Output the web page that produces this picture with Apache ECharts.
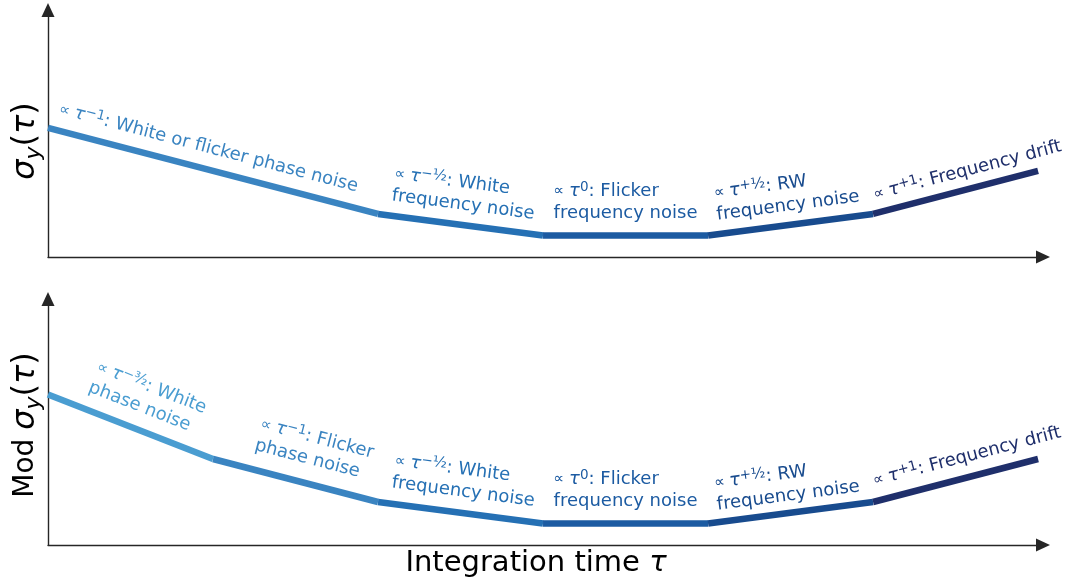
<!DOCTYPE html>
<html><head><meta charset="utf-8">
<script src="https://cdn.jsdelivr.net/npm/echarts@6/dist/echarts.min.js"></script>
<style>html,body{margin:0;padding:0;background:#fff}#c{width:1066px;height:585px}</style>
</head><body><div id="c"></div>
<script>
// ---- data (log-log schematic: log tau vs log sigma) ----
const tauTop = [0, 2, 3, 4, 5, 6];
const sigmaTop = [3.0, 1.0, 0.5, 0.5, 1.0, 2.0];
const tauBottom = [0, 1, 2, 3, 4, 5, 6];
const modSigmaBottom = [3.5, 2.0, 1.0, 0.5, 0.5, 1.0, 2.0];

const labelsTop = [
  '{p|∝ }{t|τ}{s|−1}{n|: White or flicker phase noise}',
  '{p|∝ }{t|τ}{s|−}{f|½}{n|: White}\n{n|frequency noise}',
  '{p|∝ }{t|τ}{s|0}{n|: Flicker}\n{n|frequency noise}',
  '{p|∝ }{t|τ}{s|+}{f|½}{n|: RW}\n{n|frequency noise}',
  '{p|∝ }{t|τ}{s|+1}{n|: Frequency drift}'
];
const labelsBottom = [
  '{p|∝ }{t|τ}{s|−}{f|³⁄₂}{n|: White}\n{n|phase noise}',
  '{p|∝ }{t|τ}{s|−1}{n|: Flicker}\n{n|phase noise}',
  '{p|∝ }{t|τ}{s|−}{f|½}{n|: White}\n{n|frequency noise}',
  '{p|∝ }{t|τ}{s|0}{n|: Flicker}\n{n|frequency noise}',
  '{p|∝ }{t|τ}{s|+}{f|½}{n|: RW}\n{n|frequency noise}',
  '{p|∝ }{t|τ}{s|+1}{n|: Frequency drift}'
];
const yTitleTop = '{i|σ}{b|y}{m|(}{i|τ}{m|)}';
const yTitleBottom = '{n|Mod }{i|σ}{b|y}{m|(}{i|τ}{m|)}';
const xTitle = '{n|Integration time }{x|τ}';

// ---- styles ----
const topColors = ['#3a84c1', '#2570b4', '#1c5ba2', '#184b8e', '#1f2f6b'];
const bottomColors = ['#4a9dd1', '#3a84c1', '#2570b4', '#1c5ba2', '#184b8e', '#1f2f6b'];
const topLayout = [{t:.47,d:21},{t:.5,d:31},{t:.5,d:33},{t:.5,d:30},{t:.6,d:18}];
const bottomLayout = [{t:.53,d:33},{t:.56,d:35},{t:.5,d:32},{t:.5,d:33},{t:.5,d:28},{t:.6,d:20}];
const FF = 'DejaVu Sans';
const AX = '#262626';

function labelRich() {
  return {
    p: {fontFamily: FF, fontSize: 15, align: 'left', lineHeight: 22},
    t: {fontFamily: FF, fontSize: 18, fontStyle: 'italic', align: 'left', lineHeight: 22},
    s: {fontFamily: FF, fontSize: 13.5, align: 'left', verticalAlign: 'top', lineHeight: 13},
    f: {fontFamily: FF, fontSize: 15, align: 'left', verticalAlign: 'top', lineHeight: 15},
    n: {fontFamily: FF, fontSize: 18, align: 'left', lineHeight: 22}
  };
}
function titleRich(size, msize) {
  return {
    n: {fontFamily: FF, fontSize: size, lineHeight: msize + 6},
    m: {fontFamily: FF, fontSize: msize, lineHeight: msize + 6},
    x: {fontFamily: FF, fontSize: size, fontStyle: 'italic', lineHeight: size + 6},
    i: {fontFamily: FF, fontSize: msize, fontStyle: 'italic', lineHeight: msize + 6},
    b: {fontFamily: FF, fontSize: Math.round(msize * 0.7), fontStyle: 'italic', verticalAlign: 'bottom', lineHeight: Math.round(msize * 0.7)}
  };
}

function segSeries(g, xs, ys, colors) {
  const out = [];
  for (let i = 0; i < xs.length - 1; i++) {
    out.push({
      type: 'line', xAxisIndex: g, yAxisIndex: g, silent: true,
      data: [[xs[i], ys[i]], [xs[i + 1], ys[i + 1]]],
      symbol: 'none', showSymbol: false,
      lineStyle: {width: 6.5, color: colors[i], cap: 'butt'}, z: 3
    });
  }
  return out;
}
function labelSeries(g, xs, ys, labels, colors, layout) {
  return {
    type: 'custom', xAxisIndex: g, yAxisIndex: g, silent: true, z: 10,
    data: labels.map(function (_, i) { return [i]; }),
    encode: {x: -1, y: -1},
    renderItem: function (params, api) {
      const i = params.dataIndex;
      const p1 = api.coord([xs[i], ys[i]]);
      const p2 = api.coord([xs[i + 1], ys[i + 1]]);
      const ang = Math.atan2(p2[1] - p1[1], p2[0] - p1[0]);
      const L = layout[i];
      const cx = p1[0] + (p2[0] - p1[0]) * L.t;
      const cy = p1[1] + (p2[1] - p1[1]) * L.t;
      return {
        type: 'text',
        x: cx + Math.sin(ang) * L.d,
        y: cy - Math.cos(ang) * L.d,
        rotation: -ang,
        style: {
          text: labels[i], fill: colors[i], align: 'center', verticalAlign: 'middle',
          fontFamily: FF, fontSize: 18, rich: labelRich()
        }
      };
    }
  };
}
function axisCommon(extra) {
  return Object.assign({
    type: 'value', min: 0,
    axisLine: {show: true, onZero: false, symbol: ['none', 'triangle'], symbolSize: [13, 14],
      lineStyle: {color: AX, width: 1.4}},
    axisTick: {show: false}, axisLabel: {show: false}, splitLine: {show: false}
  }, extra);
}

const chart = echarts.init(document.getElementById('c'), null, {renderer: 'canvas'});
chart.setOption({
  animation: false,
  backgroundColor: '#ffffff',
  grid: [
    {left: 48, right: 23, top: 10, height: 247, containLabel: false, outerBoundsMode: 'none'},
    {left: 48, right: 23, top: 299, height: 246, containLabel: false, outerBoundsMode: 'none'}
  ],
  xAxis: [axisCommon({gridIndex: 0, max: 6.03}), axisCommon({gridIndex: 1, max: 6.03})],
  yAxis: [axisCommon({gridIndex: 0, max: 5.74}), axisCommon({gridIndex: 1, max: 5.72})],
  series: [].concat(
    segSeries(0, tauTop, sigmaTop, topColors),
    segSeries(1, tauBottom, modSigmaBottom, bottomColors),
    [labelSeries(0, tauTop, sigmaTop, labelsTop, topColors, topLayout),
     labelSeries(1, tauBottom, modSigmaBottom, labelsBottom, bottomColors, bottomLayout)]
  ),
  graphic: [
    {type: 'text', x: 26, y: 141, rotation: Math.PI / 2, silent: true,
     style: {text: yTitleTop, fill: '#000', align: 'center', verticalAlign: 'middle', fontFamily: FF, fontSize: 28, rich: titleRich(28, 32)}},
    {type: 'text', x: 26, y: 425, rotation: Math.PI / 2, silent: true,
     style: {text: yTitleBottom, fill: '#000', align: 'center', verticalAlign: 'middle', fontFamily: FF, fontSize: 28, rich: titleRich(28, 32)}},
    {type: 'text', x: 536, y: 563, silent: true,
     style: {text: xTitle, fill: '#000', align: 'center', verticalAlign: 'middle', fontFamily: FF, fontSize: 29, rich: titleRich(29, 29)}}
  ]
});
</script></body></html>
